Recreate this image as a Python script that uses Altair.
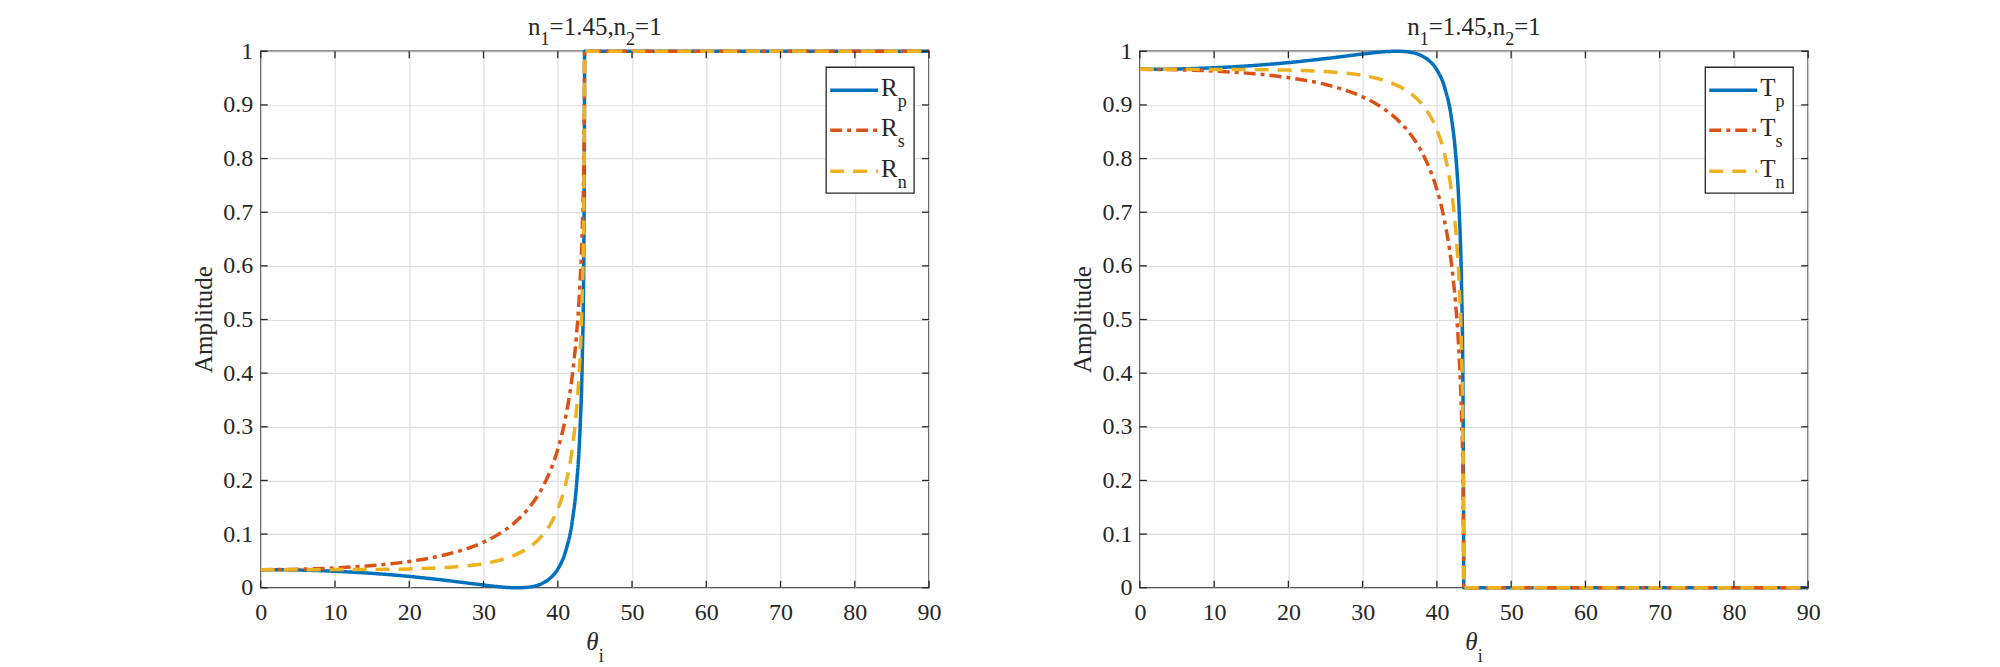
import altair as alt
import pandas as pd

# Incidence angle (degrees) and Fresnel amplitudes for n1 = 1.45 -> n2 = 1
angle = [0, 5, 10, 15, 20, 25, 30, 32, 34, 35, 36, 38, 39, 40, 41, 42, 42.5, 43, 43.3, 43.5, 43.6, 43.61, 90]
r_p = [0.0337, 0.0330, 0.0307, 0.0268, 0.0211, 0.0136, 0.0051, 0.0020, 0.0001, 0.0001, 0.0010, 0.0087,
       0.0180, 0.0347, 0.0656, 0.1284, 0.1880, 0.2969, 0.4266, 0.6101, 0.9230, 1, 1]
r_s = [0.0337, 0.0345, 0.0369, 0.0414, 0.0491, 0.0620, 0.0850, 0.0995, 0.1191, 0.1317, 0.1469, 0.1886,
       0.2184, 0.2581, 0.3141, 0.4007, 0.4673, 0.5688, 0.6700, 0.7913, 0.9627, 1, 1]
r_n = [0.0337, 0.0337, 0.0338, 0.0341, 0.0351, 0.0378, 0.0450, 0.0508, 0.0596, 0.0659, 0.0740, 0.0987,
       0.1182, 0.1464, 0.1898, 0.2646, 0.3277, 0.4329, 0.5483, 0.7007, 0.9429, 1, 1]
t_p = [0.9663, 0.9670, 0.9693, 0.9732, 0.9789, 0.9864, 0.9949, 0.9980, 0.9999, 0.9999, 0.9990, 0.9913,
       0.9820, 0.9653, 0.9344, 0.8716, 0.8120, 0.7031, 0.5734, 0.3899, 0.0770, 0, 0]
t_s = [0.9663, 0.9655, 0.9631, 0.9586, 0.9509, 0.9380, 0.9150, 0.9005, 0.8809, 0.8683, 0.8531, 0.8114,
       0.7816, 0.7419, 0.6859, 0.5993, 0.5327, 0.4312, 0.3300, 0.2087, 0.0373, 0, 0]
t_n = [0.9663, 0.9663, 0.9662, 0.9659, 0.9649, 0.9622, 0.9550, 0.9492, 0.9404, 0.9341, 0.9260, 0.9013,
       0.8818, 0.8536, 0.8102, 0.7354, 0.6723, 0.5671, 0.4517, 0.2993, 0.0571, 0, 0]

x_ticks = [0, 10, 20, 30, 40, 50, 60, 70, 80, 90]
y_ticks = [0, 0.1, 0.2, 0.3, 0.4, 0.5, 0.6, 0.7, 0.8, 0.9, 1]

W, H = 669, 537
FONT = "Liberation Serif"
INK = "#262626"
BLUE, ORANGE, YELLOW = "#0072BD", "#D95319", "#EDB120"
DASHES = [[1, 0], [12, 5, 4, 5], [14, 9]]
COLORS = [BLUE, ORANGE, YELLOW]

# advance widths (em) for the serif face, used to chain subscript pieces
ADV = {"n": 0.5, "1": 0.5, "2": 0.5, "4": 0.5, "5": 0.5, "=": 0.564, ".": 0.25, ",": 0.25,
       "R": 0.667, "T": 0.611, "θ": 0.5, "i": 0.278, "p": 0.5, "s": 0.389}

ONE = pd.DataFrame({"k": [0]})
XS = alt.Scale(domain=[0, 90], nice=False, zero=False)
YS = alt.Scale(domain=[0, 1], nice=False, zero=False)

AXIS_X = alt.Axis(values=x_ticks, grid=True, gridColor="#dedede", gridWidth=1.2, ticks=False,
                  domain=False, labelFont=FONT, labelFontSize=24, labelColor=INK,
                  labelPadding=13, title=None, labelFlush=False)
AXIS_Y = alt.Axis(values=y_ticks, grid=True, gridColor="#dedede", gridWidth=1.2, ticks=False,
                  domain=False, labelFont=FONT, labelFontSize=24, labelColor=INK,
                  labelPadding=8, title=None, format=".1~f", labelFlush=False)


def label(txt, x, y, size, style="normal", angle=0, align="left", baseline="alphabetic"):
    return alt.Chart(ONE).mark_text(
        text=txt, font=FONT, fontSize=size, fontStyle=style, angle=angle,
        align=align, baseline=baseline, color=INK
    ).encode(x=alt.value(x), y=alt.value(y))


def run_text(pieces, x_center, y):
    """pieces: (text, size, baseline shift, style); laid out left to right, centred."""
    widths = [sum(ADV.get(c, 0.5) for c in t) * s for t, s, _, _ in pieces]
    x = x_center - sum(widths) / 2
    out = []
    for (t, s, dy, st), w in zip(pieces, widths):
        out.append(label(t, x, y + dy, s, style=st))
        x += w
    return out


def panel(series, letter, edge_marker):
    layers = []
    # curves, drawn in order p, s, n
    for i, vals in enumerate(series):
        d = pd.DataFrame({"a": angle, "v": vals})
        layers.append(
            alt.Chart(d).mark_line(color=COLORS[i], strokeWidth=3.5, strokeDash=DASHES[i],
                                   interpolate="monotone", clip=False)
            .encode(x=alt.X("a:Q", scale=XS, axis=AXIS_X),
                    y=alt.Y("v:Q", scale=YS, axis=AXIS_Y))
        )
    # inward tick marks on all four sides
    xt = pd.DataFrame({"t": x_ticks})
    yt = pd.DataFrame({"t": y_ticks})
    tick = dict(color=INK, strokeWidth=1.3)
    layers += [
        alt.Chart(xt).mark_rule(**tick).encode(x=alt.X("t:Q", scale=XS, axis=AXIS_X),
                                              y=alt.value(H), y2=alt.value(H - 7)),
        alt.Chart(xt).mark_rule(**tick).encode(x=alt.X("t:Q", scale=XS, axis=AXIS_X),
                                              y=alt.value(0), y2=alt.value(7)),
        alt.Chart(yt).mark_rule(**tick).encode(y=alt.Y("t:Q", scale=YS, axis=AXIS_Y),
                                              x=alt.value(0), x2=alt.value(7)),
        alt.Chart(yt).mark_rule(**tick).encode(y=alt.Y("t:Q", scale=YS, axis=AXIS_Y),
                                              x=alt.value(W), x2=alt.value(W - 7)),
    ]
    # legend box
    bx0, bx1, by0, by1 = 566, 654, 16, 142
    layers.append(
        alt.Chart(ONE).mark_rect(fill="white", stroke=INK, strokeWidth=1.3)
        .encode(x=alt.value(bx0), x2=alt.value(bx1), y=alt.value(by0), y2=alt.value(by1))
    )
    for i, (sub, yl) in enumerate(zip(["p", "s", "n"], [39, 79, 120])):
        layers.append(
            alt.Chart(ONE).mark_rule(color=COLORS[i], strokeWidth=3.5, strokeDash=DASHES[i])
            .encode(x=alt.value(570), x2=alt.value(618), y=alt.value(yl))
        )
        layers.append(label(letter, 621, yl + 6, 25))
        layers.append(label(sub, 621 + ADV[letter] * 25, yl + 17, 18))
    # title n1=1.45,n2=1
    layers += run_text([("n", 25, 0, "normal"), ("1", 18, 10, "normal"), ("=1.45,n", 25, 0, "normal"),
                        ("2", 18, 10, "normal"), ("=1", 25, 0, "normal")], W / 2, -16)
    # x label theta_i
    layers += run_text([("θ", 25, 0, "italic"), ("i", 18, 12, "normal")], W / 2, H + 62)
    # y label
    layers.append(label("Amplitude", -57, H / 2, 25, angle=270, align="center", baseline="middle"))
    # invisible corner that fixes the outer extent of the figure
    ex, ey = edge_marker
    layers.append(
        alt.Chart(ONE).mark_rect(opacity=0)
        .encode(x=alt.value(ex[0]), x2=alt.value(ex[1]), y=alt.value(ey[0]), y2=alt.value(ey[1]))
    )
    return alt.layer(*layers).properties(width=W, height=H)


left = panel([r_p, r_s, r_n], "R", ((-260, -250), (-50, -40)))
right = panel([t_p, t_s, t_n], "T", ((850, 860), (607, 617)))

chart = (
    alt.hconcat(left, right, spacing=211, bounds="flush")
    .properties(padding=0, background="white")
    .configure_view(stroke=INK, strokeWidth=1.5)
    .configure_axis(labelFont=FONT, labelFontSize=24, labelColor=INK)
    .configure_text(font=FONT)
)

chart.save("out.html", embed_options={"renderer": "svg", "actions": False})
